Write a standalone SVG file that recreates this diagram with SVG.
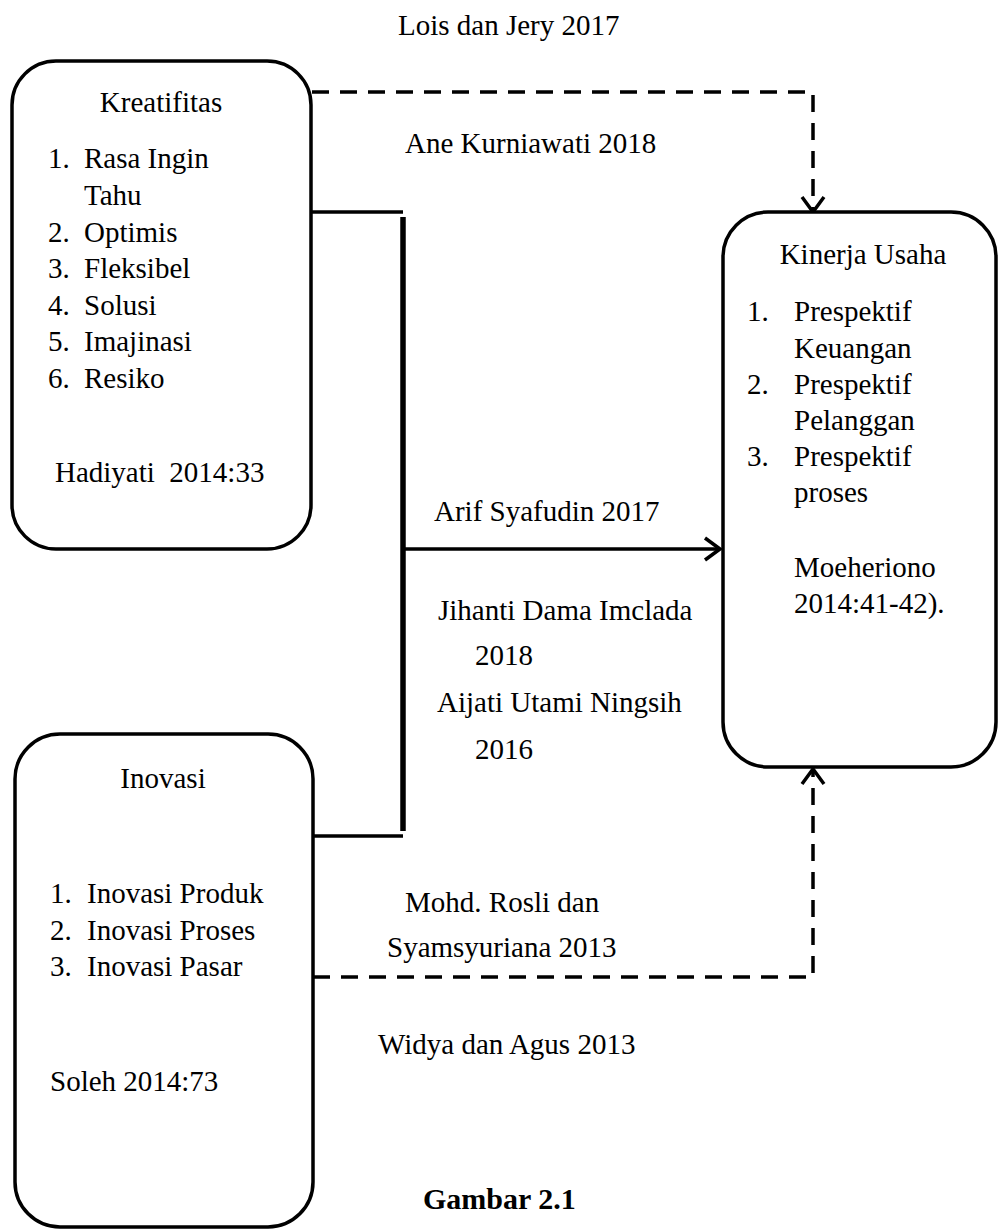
<svg xmlns="http://www.w3.org/2000/svg" width="998" height="1229" viewBox="0 0 998 1229">
<style>
  text { font-family: "Liberation Serif", "Times New Roman", Times, Tinos, "DejaVu Serif", serif; font-size: 29px; fill: #000; }
  .box { fill: #fff; stroke: #000; stroke-width: 3.5; }
  .solid { fill: none; stroke: #000; stroke-width: 3.5; }
  .bar { fill: none; stroke: #000; stroke-width: 5.5; }
  .dash { fill: none; stroke: #000; stroke-width: 3.5; stroke-dasharray: 17 11; }
  .mid { text-anchor: middle; }
  .bold { font-weight: bold; font-size: 30px; }
</style>
<defs>
  <marker id="chev" markerUnits="userSpaceOnUse" viewBox="-17 -13 19 26" markerWidth="19" markerHeight="26" refX="0" refY="0" orient="auto">
    <path d="M-15,-11 L0,0 L-15,11" fill="none" stroke="#000" stroke-width="3.5"/>
  </marker>
</defs>

<g id="connectors">
  <path class="dash" d="M312,92 H813 V212" marker-end="url(#chev)"/>
  <path class="dash" d="M313,977 H813 V769" marker-end="url(#chev)"/>
  <path class="solid" d="M311,212 H403"/>
  <path class="bar" d="M403,217 V831"/>
  <path class="solid" d="M313,836 H403"/>
  <path class="solid" d="M405,549 H720" marker-end="url(#chev)"/>
</g>

<g id="labels" font-family="Liberation Serif, serif">
  <text x="398" y="35">Lois dan Jery 2017</text>
  <text x="405" y="153">Ane Kurniawati 2018</text>
  <text x="434" y="521">Arif Syafudin 2017</text>
  <text x="438" y="620">Jihanti Dama Imclada</text>
  <text x="475" y="665">2018</text>
  <text x="437" y="712">Aijati Utami Ningsih</text>
  <text x="475" y="759">2016</text>
  <text x="405" y="912">Mohd. Rosli dan</text>
  <text x="387" y="957">Syamsyuriana 2013</text>
  <text x="378" y="1054">Widya dan Agus 2013</text>
  <text class="bold" x="423" y="1209">Gambar 2.1</text>
</g>

<g id="kreatifitas">
  <rect class="box" x="12" y="61" width="299" height="488" rx="44" ry="44"/>
  <text class="mid" x="161" y="112">Kreatifitas</text>
  <text x="48" y="168">1.</text><text x="84" y="168">Rasa Ingin</text>
  <text x="84" y="205">Tahu</text>
  <text x="48" y="242">2.</text><text x="84" y="242">Optimis</text>
  <text x="48" y="278">3.</text><text x="84" y="278">Fleksibel</text>
  <text x="48" y="315">4.</text><text x="84" y="315">Solusi</text>
  <text x="48" y="351">5.</text><text x="84" y="351">Imajinasi</text>
  <text x="48" y="388">6.</text><text x="84" y="388">Resiko</text>
  <text x="55" y="482">Hadiyati&#160; 2014:33</text>
</g>

<g id="kinerja">
  <rect class="box" x="723" y="212" width="273" height="555" rx="45" ry="45"/>
  <text class="mid" x="863" y="264">Kinerja Usaha</text>
  <text x="747" y="321">1.</text><text x="794" y="321">Prespektif</text>
  <text x="794" y="358">Keuangan</text>
  <text x="747" y="394">2.</text><text x="794" y="394">Prespektif</text>
  <text x="794" y="430">Pelanggan</text>
  <text x="747" y="466">3.</text><text x="794" y="466">Prespektif</text>
  <text x="794" y="502">proses</text>
  <text x="794" y="577">Moeheriono</text>
  <text x="794" y="613">2014:41-42).</text>
</g>

<g id="inovasi">
  <rect class="box" x="15" y="734" width="298" height="493" rx="45" ry="45"/>
  <text class="mid" x="163" y="788">Inovasi</text>
  <text x="50" y="903">1.</text><text x="87" y="903">Inovasi Produk</text>
  <text x="50" y="940">2.</text><text x="87" y="940">Inovasi Proses</text>
  <text x="50" y="976">3.</text><text x="87" y="976">Inovasi Pasar</text>
  <text x="50" y="1091">Soleh 2014:73</text>
</g>
</svg>
